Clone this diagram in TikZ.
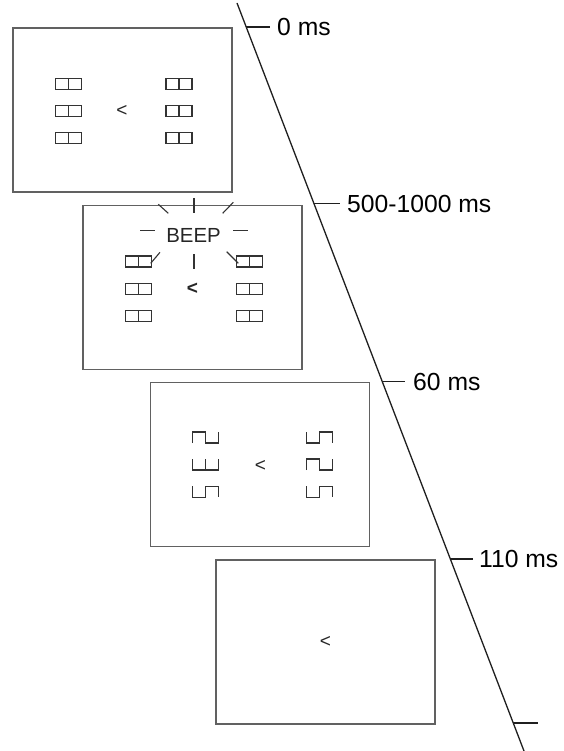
\documentclass[tikz,border=0pt]{standalone}
\usepackage{fontspec}
\setmainfont{Liberation Sans}
\begin{document}
\begin{tikzpicture}[x=1pt,y=-1pt,
  screen/.style={draw=black!62, line width=1.4pt, minimum width=219pt, minimum height=164pt, inner sep=0pt},
  glyph/.style={draw=black!80, line width=1.2pt},
  ray/.style={draw=black!80, line width=1.1pt},
  tl/.style={draw=black!88, line width=1.3pt},
  lab/.style={anchor=west, inner sep=0pt, font=\fontsize{24.7}{24.7}\selectfont},
  beep/.style={inner sep=0pt, font=\fontsize{20.4}{20.4}\selectfont, text=black!85},
  lt/.style={inner sep=0pt, font=\fontsize{19}{19}\selectfont, text=black!85},
  ltb/.style={inner sep=0pt, font=\fontsize{19}{19}\selectfont\bfseries, text=black!85},
  pics/dbl/.style={code={\draw[glyph] (-13,-5.5) rectangle (13,5.5) (0,-5.5)--(0,5.5);}},
  pics/capcup/.style={code={\draw[glyph] (-13,5.5)--(-13,-5.5)--(0,-5.5)--(0,5.5)--(13,5.5)--(13,-5.5);}},
  pics/cupcap/.style={code={\draw[glyph] (-13,-5.5)--(-13,5.5)--(0,5.5)--(0,-5.5)--(13,-5.5)--(13,5.5);}},
  pics/cupcup/.style={code={\draw[glyph] (-13,-5.5)--(-13,5.5)--(13,5.5)--(13,-5.5) (0,5.5)--(0,-5.5);}}
]
\useasboundingbox (0,0) rectangle (563,751);

% screens
\node[screen] (s1) at (122.5,110) {};
\node[screen] (s2) at (192.5,287.5) {};
\node[screen] (s3) at (260,464.5) {};
\node[screen] (s4) at (325.5,642) {};

% screen 1
\foreach \y in {83.7,111.2,138.3}{
  \pic at (68.5,\y) {dbl};
  \pic at (179,\y) {dbl};
}
\node[lt] (c1) at (122,111) {<};

% screen 2
\foreach \y in {261.5,289,316}{
  \pic at (138.3,\y) {dbl};
  \pic at (249.3,\y) {dbl};
}
\node[ltb] (c2) at (192.3,288.3) {<};
\node[beep] (beep) at (193.5,235) {BEEP};
\draw[ray] (194,198) -- (194,213);
\draw[ray] (158.3,204.3) -- (168.3,213.3);
\draw[ray] (233.3,202.3) -- (222.7,213.3);
\draw[ray] (140,230.7) -- (155,230.7);
\draw[ray] (233.3,230.7) -- (248.3,230.7);
\draw[ray] (160,252.3) -- (150.7,263.3);
\draw[ray] (194,254.3) -- (194,269);
\draw[ray] (226.7,251.7) -- (238.3,263.3);

% screen 3
\pic at (205.5,437.5) {capcup};
\pic at (205.5,464.5) {cupcup};
\pic at (205.5,491.7) {cupcap};
\pic at (319.3,437.5) {cupcap};
\pic at (319.3,464.5) {capcup};
\pic at (319.3,491.7) {cupcap};
\node[lt] (c3) at (260.5,466) {<};

% screen 4
\node[lt] (c4) at (325.5,642) {<};

% timeline
\coordinate (ttop) at (237,3);
\coordinate (tbot) at (524,751);
\draw[tl] (ttop) -- (tbot);
\coordinate (t0) at (246.2,27);
\coordinate (t1) at (313.9,203.5);
\coordinate (t2) at (382.2,381.7);
\coordinate (t3) at (450.2,559);
\coordinate (t4) at (513.1,723);
\node[lab] (l0) at (277,27) {0 ms};
\node[lab] (l1) at (347,203.5) {500-1000 ms};
\node[lab] (l2) at (413,381.7) {60 ms};
\node[lab] (l3) at (479,559) {110 ms};
\coordinate (e4) at (538,723);
\draw[tl] (t0) -- ([xshift=-7pt]l0.west);
\draw[tl] (t1) -- ([xshift=-7pt]l1.west);
\draw[tl] (t2) -- ([xshift=-8pt]l2.west);
\draw[tl] (t3) -- ([xshift=-6pt]l3.west);
\draw[tl] (t4) -- (e4);
\end{tikzpicture}
\end{document}
